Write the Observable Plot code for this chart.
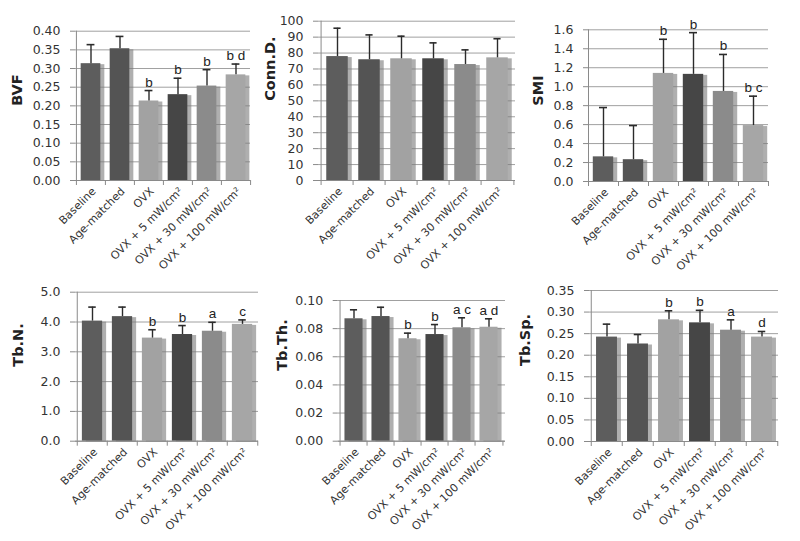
<!DOCTYPE html>
<html>
<head>
<meta charset="utf-8">
<script src="https://cdn.jsdelivr.net/npm/d3@7"></script>
<script src="https://cdn.jsdelivr.net/npm/@observablehq/plot@0.6"></script>
<style>
  html, body { margin: 0; padding: 0; background: #fff; }
  #chart { position: relative; width: 800px; height: 541px; overflow: hidden; background: #fff; }
  #chart > div { position: absolute; }
</style>
</head>
<body>
<div id="chart"></div>
<script>
// ---------- data ----------
const groups = ["Baseline", "Age-matched", "OVX", "OVX + 5 mW/cm²", "OVX + 30 mW/cm²", "OVX + 100 mW/cm²"];

const bvfMean = [0.313, 0.353, 0.213, 0.230, 0.253, 0.283];
const bvfTop = [0.364, 0.386, 0.241, 0.274, 0.297, 0.312];
const bvfLetters = ["", "", "b", "b", "b", "b d"];
const bvfTicks = [0, 0.05, 0.10, 0.15, 0.20, 0.25, 0.30, 0.35, 0.40];

const connMean = [77.8, 75.8, 76.4, 76.4, 72.8, 77.0];
const connTop = [95.6, 91.4, 90.6, 86.4, 82.0, 89.0];
const connLetters = ["", "", "", "", "", ""];
const connTicks = [0, 10, 20, 30, 40, 50, 60, 70, 80, 90, 100];

const smiMean = [0.26, 0.23, 1.14, 1.13, 0.95, 0.59];
const smiTop = [0.78, 0.59, 1.50, 1.57, 1.34, 0.90];
const smiLetters = ["", "", "b", "b", "b", "b c"];
const smiTicks = [0, 0.2, 0.4, 0.6, 0.8, 1.0, 1.2, 1.4, 1.6];

const tbnMean = [4.03, 4.18, 3.46, 3.58, 3.69, 3.92];
const tbnTop = [4.50, 4.50, 3.74, 3.88, 3.99, 4.07];
const tbnLetters = ["", "", "b", "b", "a", "c"];
const tbnTicks = [0, 1, 2, 3, 4, 5];

const tbthMean = [0.0870, 0.0886, 0.0728, 0.0758, 0.0806, 0.0810];
const tbthTop = [0.0934, 0.0952, 0.0768, 0.0829, 0.0877, 0.0870];
const tbthLetters = ["", "", "b", "b", "a c", "a d"];
const tbthTicks = [0, 0.02, 0.04, 0.06, 0.08, 0.10];

const tbspMean = [0.242, 0.226, 0.282, 0.275, 0.258, 0.242];
const tbspTop = [0.272, 0.248, 0.303, 0.304, 0.282, 0.255];
const tbspLetters = ["", "", "b", "b", "a", "d"];
const tbspTicks = [0, 0.05, 0.10, 0.15, 0.20, 0.25, 0.30, 0.35];

// ---------- styles / layout ----------
const barColors = ["#5d5d5d", "#545454", "#a2a2a2", "#464646", "#8b8b8b", "#a6a6a6"];

const panels = [
  {label: "BVF", mean: bvfMean, top: bvfTop, letters: bvfLetters, ticks: bvfTicks, fmt: ".2f",
   L: {left: 0, top: 0, width: 265, height: 270, ml: 75, mr: 15, mt: 30.7, mb: 90, labelX: 17}},
  {label: "Conn.D.", mean: connMean, top: connTop, letters: connLetters, ticks: connTicks, fmt: "d",
   L: {left: 265, top: 0, width: 265, height: 270, ml: 53, mr: 15, mt: 20.7, mb: 90, labelX: 5}},
  {label: "SMI", mean: smiMean, top: smiTop, letters: smiLetters, ticks: smiTicks, fmt: ".1f",
   L: {left: 530, top: 0, width: 270, height: 270, ml: 58, mr: 32, mt: 29.3, mb: 89, labelX: 8}},
  {label: "Tb.N.", mean: tbnMean, top: tbnTop, letters: tbnLetters, ticks: tbnTicks, fmt: ".1f",
   L: {left: 0, top: 270, width: 265, height: 271, ml: 75, mr: 7, mt: 21.7, mb: 100.3, labelX: 18}},
  {label: "Tb.Th.", mean: tbthMean, top: tbthTop, letters: tbthLetters, ticks: tbthTicks, fmt: ".2f",
   L: {left: 265, top: 270, width: 265, height: 271, ml: 72.7, mr: 25, mt: 30, mb: 100.3, labelX: 17}},
  {label: "Tb.Sp.", mean: tbspMean, top: tbspTop, letters: tbspLetters, ticks: tbspTicks, fmt: ".2f",
   L: {left: 530, top: 270, width: 270, height: 271, ml: 59, mr: 22, mt: 20, mb: 100, labelX: -5}}
];

const axisColor = "#8a8a8a";
const errColor = "#2b2b2b";

function drawPanel(p) {
  const L = p.L;
  const innerW = L.width - L.ml - L.mr;
  const step = innerW / groups.length;
  const barInset = step * 0.16;
  const capInset = step / 2 - 4;
  const rows = groups.map((g, i) => ({g, mean: p.mean[i], top: p.top[i], letter: p.letters[i], color: barColors[i]}));
  const yMax = p.ticks[p.ticks.length - 1];

  const svg = Plot.plot({
    width: L.width, height: L.height,
    marginLeft: L.ml, marginRight: L.mr, marginTop: L.mt, marginBottom: L.mb,
    style: {fontFamily: "DejaVu Sans", fontSize: "12px", overflow: "visible", background: "transparent", color: "#333"},
    x: {type: "band", domain: groups, padding: 0, label: null},
    y: {domain: [0, yMax], label: null},
    marks: [
      Plot.gridY(p.ticks, {stroke: "#a0a0a0", strokeOpacity: 1}),
      Plot.barY(rows, {x: "g", y: "mean", fill: "#7a7a7a", fillOpacity: 0.6,
        insetLeft: barInset, insetRight: barInset, dx: 4, dy: 1, ariaLabel: "shadow"}),
      Plot.barY(rows, {x: "g", y: "mean", fill: "color", insetLeft: barInset, insetRight: barInset}),
      Plot.ruleY([0], {stroke: axisColor}),
      Plot.ruleX([groups[0]], {dx: -step / 2, stroke: axisColor}),
      Plot.ruleX(rows, {x: "g", y1: "mean", y2: "top", stroke: errColor, strokeWidth: 1.4}),
      Plot.tickY(rows, {x: "g", y: "top", insetLeft: capInset, insetRight: capInset, stroke: errColor, strokeWidth: 1.6}),
      Plot.text(rows, {x: "g", y: "top", text: "letter", lineAnchor: "bottom", dy: -4,
        fontFamily: "Liberation Sans", fontSize: 13.5, fill: "#222"}),
      Plot.axisY({ticks: p.ticks, tickFormat: d3.format(p.fmt), tickSize: 5, tickPadding: 10,
        stroke: axisColor, fill: "#333", fontSize: 12.5}),
      Plot.axisX({tickSize: 5, tickFormat: () => "", dx: -step / 2, stroke: axisColor}),
      Plot.axisX([groups[groups.length - 1]], {tickSize: 5, tickFormat: () => "", dx: step / 2, stroke: axisColor}),
      Plot.axisX({tickSize: 0, tickRotate: -45, tickPadding: 9, dx: 3, fontSize: 11, fill: "#333"}),
      Plot.text([p.label], {frameAnchor: "left", dx: L.labelX - L.ml, rotate: -90,
        fontWeight: "bold", fontSize: 14.5, fill: "#222"})
    ]
  });
  d3.select(svg).selectAll('g[aria-label="shadow"]').style("filter", "blur(1.8px)");

  const holder = document.createElement("div");
  holder.style.left = L.left + "px";
  holder.style.top = L.top + "px";
  holder.appendChild(svg);
  document.getElementById("chart").appendChild(holder);
}

panels.forEach(drawPanel);
</script>
</body>
</html>
